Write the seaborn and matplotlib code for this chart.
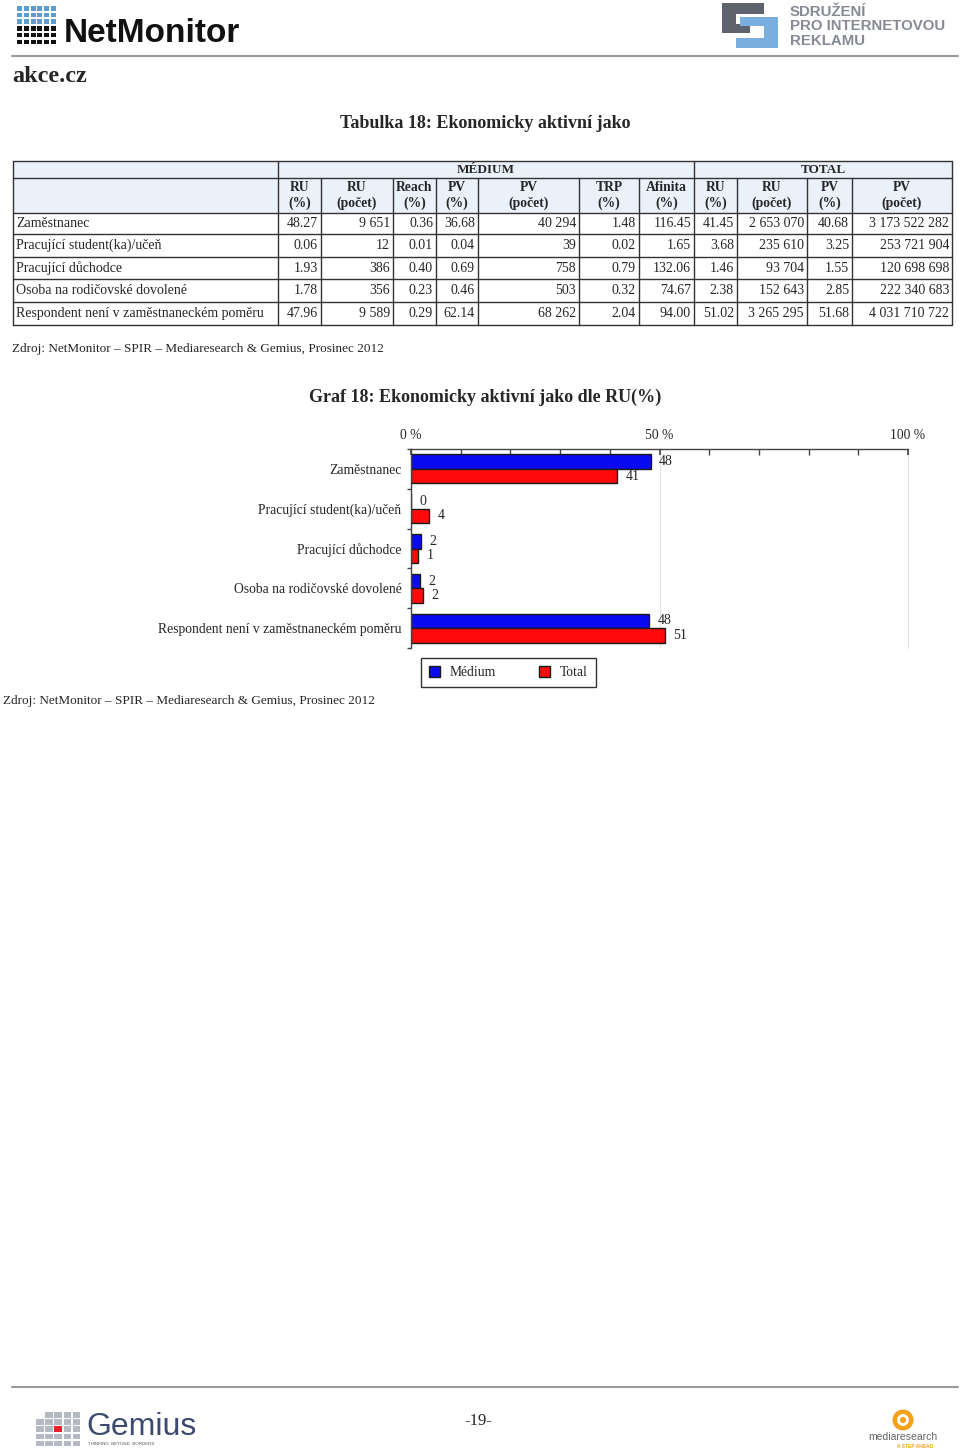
import numpy as np
import pandas as pd
import matplotlib
matplotlib.use("Agg")
import matplotlib.pyplot as plt
import seaborn as sns
from matplotlib.patches import Rectangle, Circle

# data - tabulka
row_labels = ["Zaměstnanec", "Pracující student(ka)/učeň", "Pracující důchodce",
              "Osoba na rodičovské dovolené", "Respondent není v zaměstnaneckém poměru"]
col_headers = ["RU\n(%)", "RU\n(počet)", "Reach\n(%)", "PV\n(%)", "PV\n(počet)", "TRP\n(%)",
               "Afinita\n(%)", "RU\n(%)", "RU\n(počet)", "PV\n(%)", "PV\n(počet)"]
table_values = [
    ["48.27", "9 651", "0.36", "36.68", "40 294", "1.48", "116.45", "41.45", "2 653 070", "40.68", "3 173 522 282"],
    ["0.06", "12", "0.01", "0.04", "39", "0.02", "1.65", "3.68", "235 610", "3.25", "253 721 904"],
    ["1.93", "386", "0.40", "0.69", "758", "0.79", "132.06", "1.46", "93 704", "1.55", "120 698 698"],
    ["1.78", "356", "0.23", "0.46", "503", "0.32", "74.67", "2.38", "152 643", "2.85", "222 340 683"],
    ["47.96", "9 589", "0.29", "62.14", "68 262", "2.04", "94.00", "51.02", "3 265 295", "51.68", "4 031 710 722"],
]

# data - graf
categories = row_labels
medium_ru = [48.27, 0.06, 1.93, 1.78, 47.96]
total_ru = [41.45, 3.68, 1.46, 2.38, 51.02]
series = ["Médium", "Total"]
x_ticks = [0, 50, 100]
x_tick_labels = ["0 %", "50 %", "100 %"]

source = "Zdroj: NetMonitor – SPIR – Mediaresearch & Gemius, Prosinec 2012"

sns.set_theme(style="white")
plt.rcParams["font.family"] = ["Liberation Serif", "DejaVu Serif"]

fig = plt.figure(figsize=(9.6, 14.56), dpi=100)
fig.patch.set_facecolor("white")

# stranka v pixelech
pg = fig.add_axes([0, 0, 1, 1])
pg.set_xlim(0, 960)
pg.set_ylim(1456, 0)
pg.axis("off")

# hlavicka - NetMonitor logo
for r in range(6):
    for c in range(6):
        col = "#5b9fd0" if r < 3 else "#111111"
        pg.add_patch(Rectangle((17 + c * 6.8, 6 + r * 6.7), 5, 4.6, color=col, lw=0))
pg.text(64, 33, "NetMonitor", family="Liberation Sans", weight="bold", fontsize=24,
        va="center", ha="left", color="#111111")

# SPIR logo
pg.add_patch(Rectangle((722, 3), 42, 11, color="#5e636d", lw=0))
pg.add_patch(Rectangle((722, 3), 14, 30, color="#5e636d", lw=0))
pg.add_patch(Rectangle((722, 24), 28, 9, color="#5e636d", lw=0))
pg.add_patch(Rectangle((740, 17), 38, 9, color="#7aaede", lw=0))
pg.add_patch(Rectangle((764, 17), 14, 31, color="#7aaede", lw=0))
pg.add_patch(Rectangle((736, 38), 42, 10, color="#7aaede", lw=0))
for i, t in enumerate(["SDRUŽENÍ", "PRO INTERNETOVOU", "REKLAMU"]):
    pg.text(790, 12 + i * 14.5, t, family="Liberation Sans", weight="bold", fontsize=10.8,
            color="#858a93", va="center", ha="left")

pg.plot([12, 958], [56, 56], color="#9a9a9a", lw=1.5)
pg.text(12, 76, "akce.cz", fontsize=17.5, weight="bold", va="center", ha="left")

# tabulka
pg.text(485, 124, "Tabulka 18: Ekonomicky aktivní jako", fontsize=13, weight="bold",
        va="center", ha="center")

col_edges = [13, 278, 321, 393, 436, 478, 579, 639, 694, 737, 807, 852, 952]
row_edges = [161, 178, 213, 234, 257, 279, 302, 325]
line_col = "#333333"

pg.add_patch(Rectangle((13, 161), 939, 52, color="#eaf1fa", lw=0))
for y in row_edges:
    pg.plot([13, 952], [y, y], color=line_col, lw=1)
for x in [13, 278, 694, 952]:
    pg.plot([x, x], [161, 178], color=line_col, lw=1)
for x in col_edges:
    pg.plot([x, x], [178, 325], color=line_col, lw=1)

pg.text((278 + 694) / 2, 170, "MÉDIUM", fontsize=9.5, weight="bold", ha="center", va="center")
pg.text((694 + 952) / 2, 170, "TOTAL", fontsize=9.5, weight="bold", ha="center", va="center")
for j, h in enumerate(col_headers):
    cx = (col_edges[j + 1] + col_edges[j + 2]) / 2
    pg.text(cx, 195.5, h, fontsize=9.8, weight="bold", ha="center", va="center", linespacing=1.15)
for i, lab in enumerate(row_labels):
    cy = (row_edges[i + 2] + row_edges[i + 3]) / 2
    pg.text(16, cy, lab, fontsize=10, ha="left", va="center")
    for j, v in enumerate(table_values[i]):
        pg.text(col_edges[j + 2] - 3, cy, v, fontsize=10, ha="right", va="center")

pg.text(12, 349, source, fontsize=9.5, ha="left", va="center")

# graf
pg.text(485, 397, "Graf 18: Ekonomicky aktivní jako dle RU(%)", fontsize=13, weight="bold",
        va="center", ha="center")

df = pd.DataFrame({
    "kategorie": categories * 2,
    "serie": [series[0]] * len(categories) + [series[1]] * len(categories),
    "hodnota": medium_ru + total_ru,
})

ax = fig.add_axes([411 / 960, 1 - 648 / 1456, (908 - 411) / 960, (648 - 449) / 1456])
sns.barplot(data=df, y="kategorie", x="hodnota", hue="serie", orient="h",
            palette={"Médium": "#0a0af0", "Total": "#ff0a0a"}, saturation=1,
            width=0.73, edgecolor="#1a1a1a", linewidth=1, ax=ax)
handles, labels = ax.get_legend_handles_labels()
ax.get_legend().remove()
ax.patch.set_alpha(0)

for cont, vals in zip(ax.containers, [medium_ru, total_ru]):
    ax.bar_label(cont, labels=[f"{v:.0f}" for v in vals], padding=6, fontsize=10)

ax.set_xlim(0, 100)
ax.set_ylim(4.5, -0.5)
ax.set_xlabel("")
ax.set_ylabel("")
ax.xaxis.tick_top()
ax.set_xticks(x_ticks)
ax.set_xticklabels(x_tick_labels)
ax.set_xticks(np.arange(0, 101, 10), minor=True)
ax.tick_params(axis="x", which="both", direction="in", length=4, top=True, bottom=False,
               color="#444444", pad=5, labelsize=9.8)
ax.set_yticks(range(len(categories)))
ax.set_yticklabels(categories)
ax.set_yticks(np.arange(-0.5, len(categories), 1), minor=True)
ax.tick_params(axis="y", which="major", length=0, pad=7, labelsize=9.8)
ax.tick_params(axis="y", which="minor", length=3, direction="out", left=True, color="#444444")
ax.grid(axis="x", which="major", color="#e4e4e4", lw=0.8)
ax.axvline(100, color="#e4e4e4", lw=0.8, clip_on=False, zorder=0)
for s in ["right", "bottom"]:
    ax.spines[s].set_visible(False)
for s in ["top", "left"]:
    ax.spines[s].set_color("#444444")
    ax.spines[s].set_linewidth(1)

fig.legend(handles, labels, loc="upper left", bbox_to_anchor=(421 / 960, 1 - 658 / 1456),
           ncol=2, frameon=True, fancybox=False, edgecolor="black", handlelength=0.8,
           handleheight=0.8, handletextpad=0.7, columnspacing=3.2, fontsize=9.8,
           borderpad=0.6, borderaxespad=0)

pg.text(3, 701, source, fontsize=9.5, ha="left", va="center")

# paticka
pg.plot([12, 958], [1387, 1387], color="#9a9a9a", lw=1.5)
for r in range(5):
    for c in range(5):
        if c + r < 1:
            continue
        col = "#e0222a" if (r == 2 and c == 2) else "#b5bac2"
        pg.add_patch(Rectangle((36 + c * 9.2, 1412 + r * 7.2), 7.5, 5.5, color=col, lw=0))
pg.text(86, 1427, "Gemius", family="Liberation Sans", fontsize=23, color="#3b4a6e",
        ha="left", va="center")
pg.text(88, 1444, "THINKING  BEYOND  BORDERS", family="Liberation Sans", fontsize=3.2,
        color="#555555", ha="left", va="center")
pg.text(478, 1421, "-19-", fontsize=12, ha="center", va="center")
pg.add_patch(Circle((903, 1420), 10.5, color="#f4a21c", lw=0))
pg.add_patch(Circle((903, 1420), 4.5, facecolor="none", edgecolor="white", lw=2))
pg.text(903, 1437, "mediaresearch", family="Liberation Sans", fontsize=7.5, color="#666666",
        ha="center", va="center")
pg.text(915, 1446, "A STEP AHEAD", family="Liberation Sans", fontsize=3.5, weight="bold",
        color="#f4a21c", ha="center", va="center")

fig.savefig("out.png", dpi=100)
